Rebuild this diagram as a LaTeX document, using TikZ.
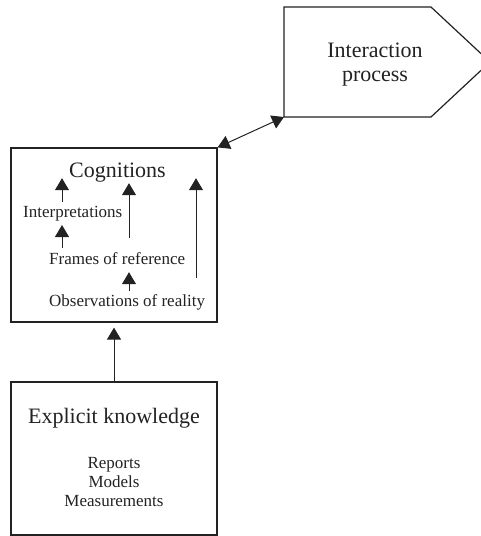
\documentclass[tikz,border=0pt]{standalone}
\usepackage{fontspec}
\setmainfont{Liberation Serif}
\usetikzlibrary{arrows.meta}
\definecolor{ink}{HTML}{222222}
\begin{document}
\begin{tikzpicture}[x=1pt,y=-1pt,
  every node/.style={text=ink},
  boxframe/.style={draw=ink,line width=1.2pt,rectangle,inner sep=0pt},
  bigtext/.style={font=\fontsize{22}{24.4}\selectfont,inner sep=0pt},
  listtext/.style={font=\fontsize{17}{18.8}\selectfont,inner sep=0pt},
  smalltext/.style={listtext,text height=11.5pt,text depth=3.5pt},
  titletext/.style={bigtext,text height=15pt,text depth=5pt},
  tip/.style={Triangle[length=12pt,width=14pt]},
  arr/.style={draw=ink,line width=1pt,-{Triangle[length=12pt,width=14pt]}},
  twoarr/.style={draw=ink,line width=1pt,{Triangle[length=12pt,width=14pt]}-{Triangle[length=12pt,width=14pt]}}]
  \useasboundingbox (0,0) rectangle (480,536);

  % Boxes
  \node[boxframe,minimum width=206pt,minimum height=174pt] (cog) at (114,235) {};
  \node[boxframe,minimum width=206pt,minimum height=153pt] (ek) at (114,458.5) {};

  % Interaction process: pointed tag shape, its tip runs past the right edge
  \draw[draw=ink,line width=1.2pt,line join=miter]
    (284,7) -- (431,7) -- (490,62) -- (431,117) -- (284,117) -- cycle;
  \coordinate (ipcorner) at (284,117);
  \node[bigtext,align=center,anchor=base] (ip) at (375,81.7)
    {Interaction\\process};

  % Cognitions contents
  \node[titletext,anchor=base] (cogt) at (117.5,177) {Cognitions};
  \node[smalltext,anchor=base west] (interp) at (23,217.3) {Interpretations};
  \node[smalltext,anchor=base west] (frames) at (49,264) {Frames of reference};
  \node[smalltext,anchor=base west] (obs) at (49,306.7) {Observations of reality};

  % Explicit knowledge contents
  \node[bigtext,anchor=base] (ekt) at (114,423.3) {Explicit knowledge};
  \node[listtext,align=center,anchor=base] (eklist) at (114,506)
    {Reports\\Models\\Measurements};

  % Connectors
  \draw[twoarr] (cog.north east) -- (ipcorner);
  \draw[arr] (ek.north) -- ([yshift=-5pt]cog.south);

  \draw[arr] ([yshift=4pt]interp.north -| 62,0) -- ([yshift=4pt]cogt.south -| 62,0);
  \draw[arr] ([yshift=4.5pt]frames.north -| 62,0) -- ([yshift=-4pt]interp.south -| 62,0);
  \draw[arr] ([yshift=14.5pt]frames.north -| 129,0) -- ([yshift=-1pt]cogt.south -| 129,0);
  \draw[arr] ([yshift=4pt]obs.north -| 129,0) -- ([yshift=-4.5pt]frames.south -| 129,0);
  \draw[arr] ([yshift=17pt]obs.north -| 196,0) -- ([yshift=4pt]cogt.south -| 196,0);
\end{tikzpicture}
\end{document}
